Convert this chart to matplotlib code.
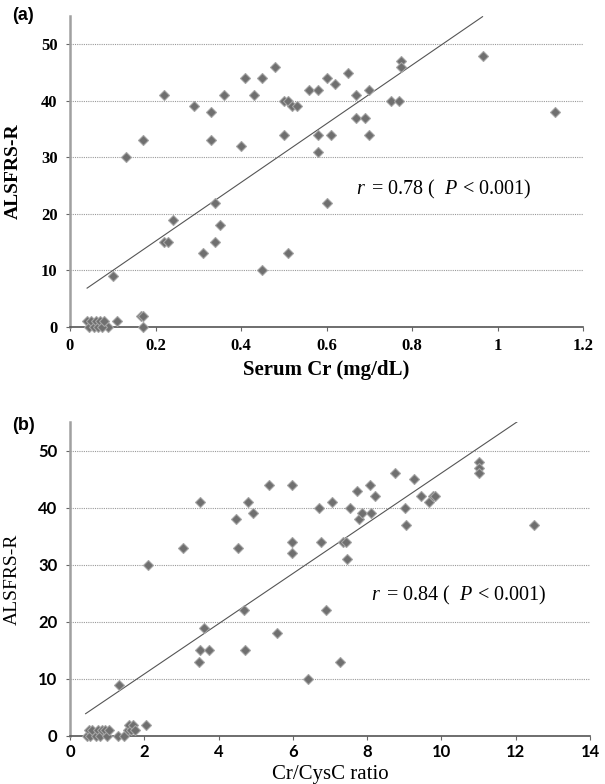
import numpy as np
import matplotlib
matplotlib.use('Agg')
import matplotlib.pyplot as plt

plt.rcParams['mathtext.fontset'] = 'custom'
plt.rcParams['mathtext.rm'] = 'Liberation Serif'
plt.rcParams['mathtext.it'] = 'Liberation Serif:italic'

## panel (a): serum Cr vs ALSFRS-R
serum_cr = [0.13, 0.17, 0.22, 0.29, 0.33, 0.33, 0.36, 0.40, 0.41, 0.43, 0.45, 0.48,
            0.50, 0.50, 0.51, 0.52, 0.53, 0.56, 0.58, 0.58, 0.58, 0.60, 0.61, 0.62,
            0.65, 0.67, 0.67, 0.69, 0.70, 0.70, 0.75, 0.77, 0.775, 0.775, 0.965, 1.135,
            0.34, 0.60, 0.24, 0.22, 0.23, 0.31, 0.34, 0.35, 0.45, 0.51, 0.10,
            0.165, 0.17, 0.17, 0.11, 0.09,
            0.04, 0.045, 0.05, 0.055, 0.06, 0.065, 0.07, 0.075, 0.08]
alsfrs_a = [30, 33, 41, 39, 38, 33, 41, 32, 44, 41, 44, 46,
            34, 40, 40, 39, 39, 42, 42, 34, 31, 44, 34, 43,
            45, 41, 37, 37, 34, 42, 40, 40, 47, 46, 48, 38,
            22, 22, 19, 15, 15, 13, 15, 18, 10, 13, 9,
            2, 2, 0, 1, 0,
            1, 0, 1, 0, 1, 0, 1, 0, 1]
fit_a = [51.9, 4.8]          # slope, intercept
fit_a_range = [0.04, 0.965]

## panel (b): Cr/CysC ratio vs ALSFRS-R
cr_cysc = [2.1, 3.05, 3.5, 4.47, 4.53, 4.79, 4.93, 5.37, 5.97, 5.99, 5.99, 6.71,
           6.75, 7.05, 7.35, 7.42, 7.46, 7.53, 7.74, 7.77, 7.87, 8.07, 8.1, 8.2,
           8.74, 9.02, 9.05, 9.26, 9.46, 9.66, 9.76, 9.84, 11.0, 11.0, 11.0, 12.5,
           4.69, 6.9, 3.6, 3.5, 3.73, 3.46, 4.72, 5.57, 6.42, 7.28, 1.33, 2.04,
           0.45, 0.5, 0.55, 0.6, 0.7, 0.75, 0.8, 0.85, 0.95, 1.0, 1.05,
           1.3, 1.45, 1.55, 1.6, 1.65, 1.7, 1.75]
alsfrs_b = [30, 33, 41, 38, 33, 41, 39, 44, 44, 34, 32, 40,
            34, 41, 34, 34, 31, 40, 43, 38, 39, 44, 39, 42,
            46, 40, 37, 45, 42, 41, 42, 42, 48, 47, 46, 37,
            22, 22, 19, 15, 15, 13, 15, 18, 10, 13, 9, 2,
            0, 1, 0, 1, 0, 1, 0, 1, 1, 0, 1,
            0, 0, 1, 2, 1, 2, 1]
fit_b = [4.4, 2.06]
fit_b_range = [0.42, 12.06]

y_ticks = [0, 10, 20, 30, 40, 50]


def style_axes(ax, xmax, xticks, xticklabels, tickfont, xpad):
    ax.set_xlim(0, xmax)
    ax.set_ylim(0, 55)
    ax.set_yticks(y_ticks)
    ax.set_xticks(xticks)
    ax.set_xticklabels(xticklabels)
    ax.yaxis.grid(True, linestyle=(0, (1, 1)), color='#9a9a9a', linewidth=0.8)
    ax.set_axisbelow(True)
    for s in ['top', 'right']:
        ax.spines[s].set_visible(False)
    ax.spines['left'].set_color('#a0a0a0')
    ax.spines['left'].set_linewidth(1.8)
    ax.spines['bottom'].set_color('#555555')
    ax.spines['bottom'].set_linewidth(1.2)
    ax.tick_params(axis='both', length=3, width=0.8, color='#666666', pad=6)
    ax.tick_params(axis='x', pad=xpad)
    for lab in ax.get_xticklabels() + ax.get_yticklabels():
        lab.set_fontproperties(tickfont)


fig = plt.figure(figsize=(6.05, 7.84), dpi=100)

## (a)
ax1 = fig.add_axes([70 / 605, 457 / 784, 513 / 605, 311 / 784])
ax1.plot(fit_a_range, np.polyval(fit_a, fit_a_range), color='#555555', linewidth=0.8)
ax1.plot(serum_cr, alsfrs_a, 'D', markersize=5, color='#6f6f6f',
         markeredgecolor='#a5a5a5', markeredgewidth=0.8, clip_on=False, zorder=3)
style_axes(ax1, 1.2, [0, 0.2, 0.4, 0.6, 0.8, 1.0, 1.2],
           ['0', '0.2', '0.4', '0.6', '0.8', '1', '1.2'],
           matplotlib.font_manager.FontProperties(family='Liberation Serif', weight='bold', size=12), 5)
ax1.set_xlabel('Serum Cr (mg/dL)', family='Liberation Serif', weight='bold', fontsize=15)
ax1.xaxis.set_label_coords(0.5, -0.105)
ax1.set_ylabel('ALSFRS-R', family='Liberation Serif', weight='bold', fontsize=14)
ax1.yaxis.set_label_coords(-0.094, 0.5)
ax1.text(0.67, 24.3, r'$r\,$ = 0.78 (  $P$ < 0.001)', family='Liberation Serif',
         fontsize=14.5, va='center', ha='left')
fig.text(12 / 605, 1 - 16 / 784, '(a)', family='Liberation Sans', weight='bold',
         fontsize=13, va='center', ha='left')

## (b)
ax2 = fig.add_axes([70 / 605, 48 / 784, 520 / 605, 314 / 784])
ax2.plot(fit_b_range, np.polyval(fit_b, fit_b_range), color='#555555', linewidth=0.8)
ax2.plot(cr_cysc, alsfrs_b, 'D', markersize=5, color='#6f6f6f',
         markeredgecolor='#a5a5a5', markeredgewidth=0.8, clip_on=False, zorder=3)
style_axes(ax2, 14, [0, 2, 4, 6, 8, 10, 12, 14],
           ['0', '2', '4', '6', '8', '10', '12', '14'],
           matplotlib.font_manager.FontProperties(family='Lato', weight='bold', size=12), 3)
ax2.set_xlabel('Cr/CysC ratio', family='Liberation Serif', fontsize=15)
ax2.xaxis.set_label_coords(0.5, -0.092)
ax2.set_ylabel('ALSFRS-R', family='Liberation Serif', fontsize=14)
ax2.yaxis.set_label_coords(-0.094, 0.5)
ax2.text(8.1, 24.7, r'$r\,$ = 0.84 (  $P$ < 0.001)', family='Liberation Serif',
         fontsize=14.5, va='center', ha='left')
fig.text(12 / 605, 1 - 426 / 784, '(b)', family='Liberation Sans', weight='bold',
         fontsize=13, va='center', ha='left')

plt.savefig('out.png', dpi=100)
